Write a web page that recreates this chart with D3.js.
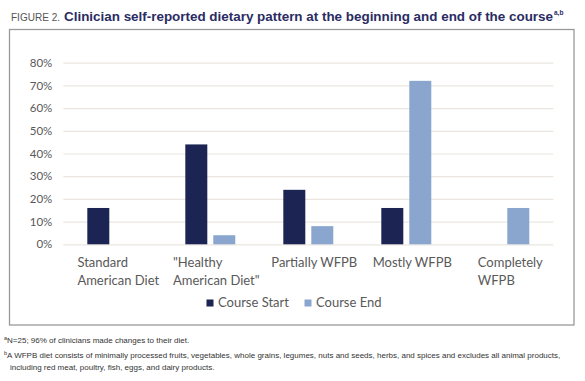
<!DOCTYPE html>
<html><head><meta charset="utf-8">
<script src="https://cdn.jsdelivr.net/npm/d3@7"></script>
<style>
html,body{margin:0;padding:0;background:#fff;}
svg{display:block;}
</style></head>
<body>
<svg id="chart" width="585" height="381"></svg>
<script>
const categories = [["Standard","American Diet"],["\"Healthy","American Diet\""],["Partially WFPB"],["Mostly WFPB"],["Completely","WFPB"]];
const categoryKeys = ["Standard American Diet","\"Healthy American Diet\"","Partially WFPB","Mostly WFPB","Completely WFPB"];
const seriesNames = ["Course Start","Course End"];
const courseStart = [0.16,0.44,0.24,0.16,0];
const courseEnd = [0,0.04,0.08,0.72,0.16];
const yTicks = [0,0.1,0.2,0.3,0.4,0.5,0.6,0.7,0.8];
const colors = ["#1b2452","#8aa6cf"];

const svg = d3.select("#chart");
const font = "Lato, 'Open Sans', sans-serif";
const sans = "'Liberation Sans', Arial, sans-serif";

// Title
svg.append("text").attr("x",11).attr("y",20.5).attr("font-family",sans)
  .attr("font-size",10).attr("fill","#555").attr("textLength",49).attr("lengthAdjust","spacingAndGlyphs")
  .text("FIGURE 2.");
svg.append("text").attr("x",64).attr("y",20.5).attr("font-family",sans)
  .attr("font-size",12.5).attr("font-weight","bold").attr("fill","#2a2c63")
  .attr("textLength",489).attr("lengthAdjust","spacingAndGlyphs")
  .text("Clinician self-reported dietary pattern at the beginning and end of the course");
svg.append("text").attr("x",554).attr("y",15).attr("font-family",sans)
  .attr("font-size",6.5).attr("font-weight","bold").attr("fill","#2a2c63").text("a,b");

// Frame
svg.append("rect").attr("x",9.5).attr("y",29.5).attr("width",564.5).attr("height",295.5)
  .attr("fill","none").attr("stroke","#9a9a9a").attr("stroke-width",1.3);

const x0 = d3.scaleBand().domain(categoryKeys).range([63.3,553.3]).paddingInner(0.49).paddingOuter(0.245);
const x1 = d3.scaleBand().domain(seriesNames).range([0,x0.bandwidth()]).paddingInner(0.214);
const y = d3.scaleLinear().domain([0,0.8]).range([244.3,62.7]);

// grid
const yAxis = d3.axisLeft(y).tickValues(yTicks).tickFormat(d3.format(".0%")).tickSize(-(553.3-63.3)).tickPadding(11);
const gy = svg.append("g").attr("transform","translate(63.3,0)").call(yAxis);
gy.select(".domain").remove();
gy.selectAll(".tick line").attr("stroke","#ebe7e0").attr("stroke-width",1.2);
gy.selectAll(".tick text").attr("font-family",font).attr("font-size",11.5).attr("fill","#595959");

// bars
const groups = svg.append("g").selectAll("g").data(categoryKeys).join("g")
  .attr("transform",d=>`translate(${x0(d)},0)`);
groups.selectAll("rect").data((d,i)=>[{s:seriesNames[0],v:courseStart[i]},{s:seriesNames[1],v:courseEnd[i]}])
  .join("rect")
  .attr("x",d=>x1(d.s)).attr("width",x1.bandwidth())
  .attr("y",d=>y(d.v)).attr("height",d=>y(0)-y(d.v))
  .attr("fill",(d,i)=>colors[i]);

// category labels
categoryKeys.forEach((k,i)=>{
  const cx = x0(k)+x0.bandwidth()/2+6;
  const g = svg.append("g");
  const texts = categories[i].map((line,j)=>g.append("text").attr("y",267+j*17.5)
     .attr("font-family",font).attr("font-size",13).attr("fill","#595959").text(line));
  const w = d3.max(texts.map(t=>t.node().getComputedTextLength()));
  texts.forEach(t=>t.attr("x",cx-w/2));
});

// legend
const legendX = [206.5,304.5];
seriesNames.forEach((s,i)=>{
  svg.append("rect").attr("x",legendX[i]).attr("y",299.5).attr("width",7).attr("height",7).attr("fill",colors[i]);
  svg.append("text").attr("x",legendX[i]+11.5).attr("y",306.5).attr("font-family",font).attr("font-size",13).attr("fill","#595959").text(s);
});

// footnotes
const fn = svg.append("g").attr("font-family",sans).attr("font-size",8).attr("fill","#333");
const f1 = fn.append("text").attr("x",4).attr("y",343);
f1.append("tspan").attr("font-size",5.5).attr("dy",-3).text("a");
f1.append("tspan").attr("dy",3).text("N=25; 96% of clinicians made changes to their diet.");
const f2 = fn.append("text").attr("x",4).attr("y",357.5);
f2.append("tspan").attr("font-size",5.5).attr("dy",-3).text("b");
f2.append("tspan").attr("dy",3).text("A WFPB diet consists of minimally processed fruits, vegetables, whole grains, legumes, nuts and seeds, herbs, and spices and excludes all animal products,");
fn.append("text").attr("x",10).attr("y",369.5).text("including red meat, poultry, fish, eggs, and dairy products.");
</script>
</body></html>
